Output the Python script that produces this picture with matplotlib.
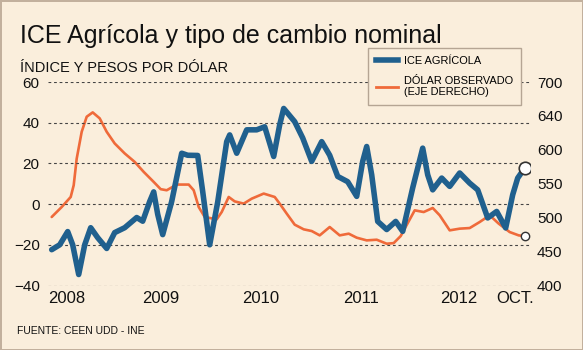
import matplotlib
matplotlib.use("Agg")
import matplotlib.pyplot as plt
from matplotlib.lines import Line2D

plt.rcParams['font.family'] = ['Liberation Sans', 'DejaVu Sans']

# --- data (decimal years) ---
ice_t = [2008.00, 2008.08, 2008.16, 2008.21, 2008.27, 2008.33, 2008.39, 2008.46, 2008.55,
         2008.63, 2008.73, 2008.85, 2008.91, 2008.98, 2009.02, 2009.06, 2009.11, 2009.20,
         2009.30, 2009.36, 2009.46, 2009.51, 2009.58, 2009.66, 2009.75, 2009.78, 2009.85,
         2009.95, 2010.05, 2010.13, 2010.22, 2010.28, 2010.32, 2010.43, 2010.51, 2010.60,
         2010.70, 2010.78, 2010.86, 2010.96, 2011.05, 2011.11, 2011.15, 2011.20, 2011.26,
         2011.35, 2011.44, 2011.51, 2011.61, 2011.71, 2011.76, 2011.81, 2011.90, 2011.98,
         2012.08, 2012.18, 2012.26, 2012.36, 2012.45, 2012.54, 2012.61, 2012.66, 2012.73]
ice_v = [-22.4, -20, -13.5, -20, -34.6, -20, -11.6, -16.5, -21.8,
         -14, -11.6, -6.6, -8.4, 1.3, 6, -5, -15, 1.3,
         25, 24, 23.9, 6.2, -20, 1, 30.7, 34, 25,
         36.5, 36.5, 38, 23.4, 39, 47, 40.5, 32.5, 21,
         30.7, 24, 13.6, 11, 3.8, 21, 28.3, 14.4, -8.5,
         -12.5, -8.5, -13.4, 8, 27.5, 14.4, 7, 12.8, 8.7,
         15.3, 10.3, 7, -6.8, -3.6, -11.7, 4.6, 12.8, 17.7]

dolar_t = [2008.00, 2008.10, 2008.19, 2008.22, 2008.25, 2008.30, 2008.35, 2008.41, 2008.48,
           2008.55, 2008.63, 2008.73, 2008.83, 2008.92, 2009.02, 2009.09, 2009.15,
           2009.25, 2009.37, 2009.42, 2009.47, 2009.53, 2009.65, 2009.70, 2009.77, 2009.83,
           2009.92, 2010.00, 2010.12, 2010.23, 2010.28, 2010.35, 2010.43, 2010.52, 2010.60,
           2010.68, 2010.78, 2010.88, 2010.97, 2011.05, 2011.15, 2011.25, 2011.35, 2011.42,
           2011.49, 2011.53, 2011.63, 2011.72, 2011.81, 2011.88, 2011.98, 2012.08, 2012.18,
           2012.28, 2012.38, 2012.47, 2012.58, 2012.67, 2012.73]
dolar_v = [501, 515.7, 530.5, 547.8, 587, 626.6, 648.8, 655.2, 646.4,
           626.6, 609.4, 594.7, 582.2, 567.5, 552.7, 542, 540.4,
           548.8, 548.8, 540.4, 515.7, 501, 497.5, 508.3, 530.5, 524,
           520.7, 528, 535.5, 530.5, 520.7, 506, 489.7, 482.8, 480.3,
           473.9, 486.2, 473.9, 476.4, 470.5, 466.5, 467.5, 461.6, 462.5,
           472.9, 483.8, 510.8, 508.3, 514.3, 503.5, 481.3, 483.8, 484.7,
           493.6, 503.5, 491.2, 478.8, 473.9, 472.9]

left_ticks = [-40, -20, 0, 20, 40, 60]
right_ticks = [400, 450, 500, 550, 600, 650, 700]
right_labels = ['400', '450', '500', '550', '600', '640', '700']
year_pos = [2008.15, 2009.09, 2010.09, 2011.09, 2012.07, 2012.63]
year_labels = ['2008', '2009', '2010', '2011', '2012', 'OCT.']

bg = '#faeedc'
blue = '#20608e'
orange = '#ef6a3a'

W, H = 583, 350
fig = plt.figure(figsize=(W / 100, H / 100), dpi=100, facecolor=bg,
                 edgecolor='#c2b09d', linewidth=2)
ax = fig.add_axes([48 / W, 1 - 285.5 / H, (530 - 48) / W, (285.5 - 82) / H])
ax2 = ax.twinx()
ax.set_zorder(ax2.get_zorder() + 1)
ax.patch.set_visible(False)
ax2.set_facecolor(bg)

ax2.plot(dolar_t, dolar_v, color=orange, lw=1.9, solid_joinstyle='round', solid_capstyle='round')
ax2.plot(dolar_t[-1], dolar_v[-1], 'o', ms=6, mfc='white', mec='#333333', mew=1)
ax.plot(ice_t, ice_v, color=blue, lw=4, solid_joinstyle='round', solid_capstyle='round')
ax.plot(ice_t[-1], ice_v[-1], 'o', ms=9, mfc='white', mec='#333333', mew=1.2)

ax.set_xlim(2007.963, 2012.783)
ax.set_ylim(-40, 60)
ax2.set_ylim(400, 700)
ax.set_yticks(left_ticks)
ax2.set_yticks(right_ticks)
ax2.set_yticklabels(right_labels)
ax.set_xticks(year_pos)
ax.set_xticklabels(year_labels)

for a in (ax, ax2):
    for s in a.spines.values():
        s.set_visible(False)
ax.tick_params(axis='y', length=0, pad=6, labelsize=11, labelcolor='#111111')
ax2.tick_params(axis='y', length=0, pad=5, labelsize=11, labelcolor='#111111')
ax.tick_params(axis='x', length=0, pad=4, labelsize=12, labelcolor='#111111')
ax.yaxis.grid(True, color='#444444', lw=0.8, linestyle=(0, (2.5, 2.5)))

handles = [Line2D([], [], color=blue, lw=4),
           Line2D([], [], color=orange, lw=2)]
leg = ax.legend(handles, ['ICE AGRÍCOLA', 'DÓLAR OBSERVADO\n(EJE DERECHO)'],
                loc='upper left', bbox_to_anchor=(368 / W, 1 - 48 / H),
                bbox_transform=fig.transFigure, prop={'size': 7.9}, frameon=True,
                fancybox=False, framealpha=1, facecolor=bg, edgecolor='#b5a594',
                handlelength=2.0, handletextpad=0.5, borderpad=0.75, labelspacing=0.85,
                borderaxespad=0)
leg.get_frame().set_linewidth(1)

fig.text(20 / W, 1 - 43 / H, 'ICE Agrícola y tipo de cambio nominal', fontsize=18,
         va='baseline', color='#111111')
fig.text(20 / W, 1 - 72.5 / H, 'ÍNDICE Y PESOS POR DÓLAR', fontsize=10.5,
         va='baseline', color='#111111')
fig.text(17 / W, 1 - 331 / H, 'FUENTE: CEEN UDD - INE', fontsize=7.5,
         va='center', color='#111111')

fig.savefig('out.png', dpi=100, facecolor=fig.get_facecolor(), edgecolor=fig.get_edgecolor())
